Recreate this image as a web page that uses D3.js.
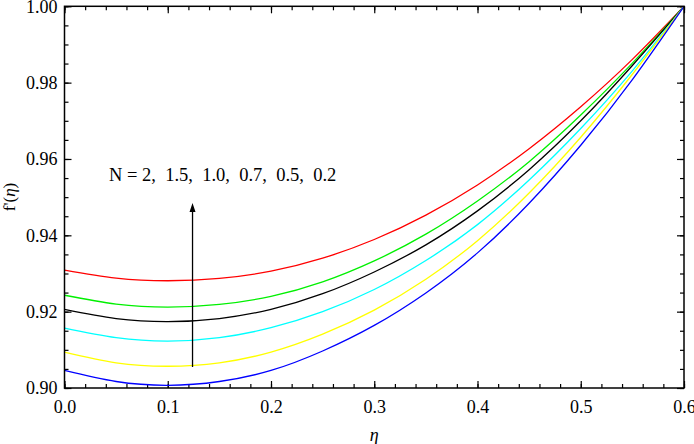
<!DOCTYPE html>
<html>
<head>
<meta charset="utf-8">
<script src="https://cdn.jsdelivr.net/npm/d3@7"></script>
<style>
  html, body { margin: 0; padding: 0; background: #fff; }
  svg { display: block; }
  text { font-family: "Liberation Serif", "Times New Roman", serif; fill: #000; }
</style>
</head>
<body>
<svg id="chart" width="694" height="444" font-family="Liberation Serif, Times New Roman, serif"></svg>
<script>
// ---- data ----
const eta = [0, 0.05, 0.1, 0.15, 0.2, 0.25, 0.3, 0.35, 0.4, 0.45, 0.5, 0.55, 0.6];
const seriesN = ["2", "1.5", "1.0", "0.7", "0.5", "0.2"];
const fN2   = [0.9309, 0.9288, 0.9281, 0.9287, 0.9306, 0.9340, 0.9389, 0.9453, 0.9532, 0.9627, 0.9737, 0.9861, 1.0];
const fN15  = [0.9243, 0.9220, 0.9212, 0.9219, 0.9240, 0.9278, 0.9333, 0.9403, 0.9490, 0.9593, 0.9715, 0.9851, 1.0];
const fN10  = [0.9206, 0.9182, 0.9174, 0.9182, 0.9206, 0.9247, 0.9304, 0.9375, 0.9464, 0.9572, 0.9700, 0.9845, 1.0];
const fN07  = [0.9157, 0.9132, 0.9123, 0.9132, 0.9158, 0.9200, 0.9258, 0.9334, 0.9428, 0.9545, 0.9680, 0.9831, 1.0];
const fN05  = [0.9094, 0.9066, 0.9057, 0.9066, 0.9094, 0.9141, 0.9204, 0.9285, 0.9386, 0.9511, 0.9657, 0.9822, 1.0];
const fN02  = [0.9046, 0.9017, 0.9007, 0.9017, 0.9046, 0.9097, 0.9164, 0.9249, 0.9354, 0.9484, 0.9636, 0.9808, 1.0];
const xTicks = [0, 0.1, 0.2, 0.3, 0.4, 0.5, 0.6];
const yTicks = [0.90, 0.92, 0.94, 0.96, 0.98, 1.00];
const annotation = "N = 2,  1.5,  1.0,  0.7,  0.5,  0.2";

const series = [
  { values: fN2,  color: "#ff0000" },
  { values: fN15, color: "#00f000" },
  { values: fN10, color: "#000000" },
  { values: fN07, color: "#00ffff" },
  { values: fN05, color: "#ffff00" },
  { values: fN02, color: "#0000ff" }
];

// ---- layout ----
const L = 64.5, R = 684, T = 6.3, B = 388;
const FONT = '"Liberation Serif", "Times New Roman", serif';
const svg = d3.select("#chart");
const x = d3.scaleLinear().domain([0, 0.6]).range([L, R]);
const y = d3.scaleLinear().domain([0.90, 1.00]).range([B, T]);

const xMinor = d3.range(0, 0.6001, 0.02);
const yMinor = d3.range(0.90, 1.0001, 0.005);

function styleAxis(g) {
  g.attr("font-family", FONT);
  g.select(".domain").remove();
  g.selectAll(".tick line").attr("stroke", "#000").attr("stroke-width", 1.2);
  g.selectAll("text").style("font-family", FONT)
    .style("font-size", "18px").attr("fill", "#000");
}

// minor ticks
svg.append("g").attr("transform", `translate(0,${B})`)
  .call(d3.axisBottom(x).tickValues(xMinor).tickSize(-4).tickFormat(""))
  .call(styleAxis);
svg.append("g").attr("transform", `translate(0,${T})`)
  .call(d3.axisTop(x).tickValues(xMinor).tickSize(-4).tickFormat(""))
  .call(styleAxis);
svg.append("g").attr("transform", `translate(${L},0)`)
  .call(d3.axisLeft(y).tickValues(yMinor).tickSize(-4).tickFormat(""))
  .call(styleAxis);
svg.append("g").attr("transform", `translate(${R},0)`)
  .call(d3.axisRight(y).tickValues(yMinor).tickSize(-4).tickFormat(""))
  .call(styleAxis);

// major ticks
svg.append("g").attr("transform", `translate(0,${B})`)
  .call(d3.axisBottom(x).tickValues(xTicks).tickSize(-7).tickPadding(12).tickFormat(d3.format(".1f")))
  .call(styleAxis);
svg.append("g").attr("transform", `translate(0,${T})`)
  .call(d3.axisTop(x).tickValues(xTicks).tickSize(-7).tickFormat(""))
  .call(styleAxis);
svg.append("g").attr("transform", `translate(${L},0)`)
  .call(d3.axisLeft(y).tickValues(yTicks).tickSize(-7).tickPadding(7).tickFormat(d3.format(".2f")))
  .call(styleAxis);
svg.append("g").attr("transform", `translate(${R},0)`)
  .call(d3.axisRight(y).tickValues(yTicks).tickSize(-7).tickFormat(""))
  .call(styleAxis);

// curves
const line = d3.line()
  .x((d, i) => x(eta[i]))
  .y(d => y(d))
  .curve(d3.curveNatural);

svg.append("clipPath").attr("id", "clip")
  .append("rect").attr("x", L).attr("y", T).attr("width", R - L).attr("height", B - T);

svg.append("g").attr("clip-path", "url(#clip)")
  .selectAll("path").data(series).join("path")
  .attr("d", d => line(d.values))
  .attr("fill", "none")
  .attr("stroke", d => d.color)
  .attr("stroke-width", 1.3);

// frame
svg.append("rect").attr("x", L).attr("y", T).attr("width", R - L).attr("height", B - T)
  .attr("fill", "none").attr("stroke", "#000").attr("stroke-width", 1.5);

// arrow
const ax = x(0.124);
const arrowBottom = y(0.9055), arrowTop = y(0.9485);
svg.append("line").attr("x1", ax).attr("x2", ax).attr("y1", arrowBottom).attr("y2", arrowTop + 8)
  .attr("stroke", "#000").attr("stroke-width", 1.3);
svg.append("path")
  .attr("d", `M${ax},${arrowTop} L${ax - 3},${arrowTop + 9} L${ax + 3},${arrowTop + 9} Z`)
  .attr("fill", "#000");

// annotation
svg.append("text").attr("x", 109).attr("y", 181)
  .style("font-family", FONT)
  .style("font-size", "18.5px").style("white-space", "pre")
  .attr("xml:space", "preserve")
  .text(annotation);

// axis titles
svg.append("text").attr("x", (L + R) / 2).attr("y", 441)
  .attr("text-anchor", "middle").style("font-family", FONT)
  .style("font-size", "18px").style("font-style", "italic")
  .text("η");
svg.append("text")
  .attr("transform", `translate(15,197) rotate(-90)`)
  .attr("text-anchor", "middle").style("font-family", FONT).style("font-size", "17px")
  .html('f\'(<tspan font-style="italic">η</tspan>)');
</script>
</body>
</html>
